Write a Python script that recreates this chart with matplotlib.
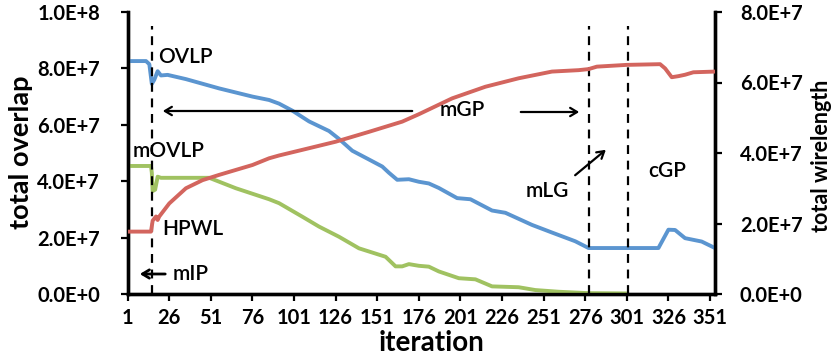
import matplotlib
matplotlib.use("Agg")
import matplotlib.pyplot as plt
import numpy as np

plt.rcParams['font.family'] = ['Lato', 'DejaVu Sans']

# ---- data ----
ovlp_iter = [1, 12, 14, 15.5, 17, 19, 21, 25, 36, 56, 76, 86, 92, 100, 110, 122, 128, 136,
             146, 154, 158, 163, 170, 176, 182, 188, 199, 207, 220, 228, 244, 256, 270, 278,
             320, 326, 330, 336, 346, 354]
ovlp_val = [8.26e7, 8.26e7, 8.15e7, 7.45e7, 7.6e7, 7.9e7, 7.75e7, 7.77e7, 7.62e7, 7.29e7,
            7.0e7, 6.88e7, 6.75e7, 6.5e7, 6.12e7, 5.78e7, 5.5e7, 5.08e7, 4.77e7, 4.52e7,
            4.3e7, 4.05e7, 4.07e7, 3.98e7, 3.92e7, 3.76e7, 3.4e7, 3.36e7, 2.96e7, 2.88e7,
            2.45e7, 2.18e7, 1.87e7, 1.63e7, 1.63e7, 2.28e7, 2.27e7, 1.98e7, 1.86e7, 1.63e7]

movlp_iter = [1, 15, 15.5, 16, 17.5, 19, 21, 50, 66, 86, 92, 106, 116, 128, 140, 156, 162,
              166, 170, 176, 182, 188, 200, 210, 220, 236, 246, 260, 278, 301]
movlp_val = [4.54e7, 4.54e7, 4.3e7, 3.65e7, 3.7e7, 4.16e7, 4.12e7, 4.12e7, 3.75e7, 3.36e7,
             3.22e7, 2.74e7, 2.39e7, 2.03e7, 1.62e7, 1.32e7, 0.98e7, 0.98e7, 1.06e7, 1.0e7,
             0.97e7, 0.8e7, 0.56e7, 0.52e7, 0.27e7, 0.24e7, 0.14e7, 0.08e7, 0.03e7, 0.02e7]

hpwl_iter = [1, 15, 16, 18, 19, 20, 26, 36, 46, 56, 76, 86, 92, 106, 126, 146, 166, 176,
             196, 216, 236, 256, 272, 278, 283, 301, 321, 324, 328, 332, 336, 341, 354]
hpwl_val = [1.77e7, 1.77e7, 2.08e7, 2.2e7, 2.1e7, 2.2e7, 2.57e7, 3.0e7, 3.23e7, 3.38e7,
            3.66e7, 3.85e7, 3.93e7, 4.09e7, 4.32e7, 4.6e7, 4.89e7, 5.1e7, 5.55e7, 5.88e7,
            6.12e7, 6.31e7, 6.35e7, 6.38e7, 6.45e7, 6.5e7, 6.52e7, 6.4e7, 6.15e7, 6.18e7,
            6.22e7, 6.29e7, 6.31e7]

x_ticks = [1, 26, 51, 76, 101, 126, 151, 176, 201, 226, 251, 276, 301, 326, 351]
left_ticks = [0, 2e7, 4e7, 6e7, 8e7, 1e8]
left_labels = ['0.0E+0', '2.0E+7', '4.0E+7', '6.0E+7', '8.0E+7', '1.0E+8']
right_ticks = [0, 2e7, 4e7, 6e7, 8e7]
right_labels = ['0.0E+0', '2.0E+7', '4.0E+7', '6.0E+7', '8.0E+7']
phase_iters = [15.5, 278.5, 301.5]

BLUE = '#5b95d0'
GREEN = '#a0c261'
RED = '#d3655e'

W, H = 833, 357
fig = plt.figure(figsize=(W / 100, H / 100), dpi=100)
ax = fig.add_axes([127.7 / W, 1 - 294 / H, (715 - 127.7) / W, (294 - 12) / H])
ax2 = ax.twinx()

lw = 2.8
ax.plot(ovlp_iter, ovlp_val, color=BLUE, lw=lw, solid_capstyle='butt', zorder=3)
ax.plot(movlp_iter, movlp_val, color=GREEN, lw=lw, solid_capstyle='butt', zorder=3)
ax2.plot(hpwl_iter, hpwl_val, color=RED, lw=lw, solid_capstyle='butt', zorder=3)

ax.set_xlim(1, 354)
ax.set_ylim(0, 1e8)
ax2.set_ylim(0, 8e7)

ax.set_xticks(x_ticks)
ax.set_xticklabels([str(t) for t in x_ticks])
ax.set_yticks(left_ticks)
ax.set_yticklabels(left_labels)
ax2.set_yticks(right_ticks)
ax2.set_yticklabels(right_labels)

tfs = 14.5
for a in (ax, ax2):
    for s in a.spines.values():
        s.set_linewidth(2.4)
    a.spines['top'].set_visible(False)
ax.tick_params(axis='x', direction='out', length=5, width=1.6, pad=5, labelsize=tfs)
ax.tick_params(axis='y', direction='out', length=5, width=1.6, pad=15, labelsize=tfs)
ax2.tick_params(axis='y', direction='out', length=5, width=1.6, pad=13, labelsize=tfs)
for lab in ax.get_xticklabels() + ax.get_yticklabels() + ax2.get_yticklabels():
    lab.set_fontweight('bold')

# dashed phase lines
for xi in phase_iters:
    ax.plot([xi, xi], [0, 9.5e7], color='black', lw=1.6, ls=(0, (4, 3)), zorder=4)

# axis titles
fig.text(21 / W, 1 - 152 / H, 'total overlap', rotation=90, ha='center', va='center',
         fontsize=19.5, fontweight='bold')
fig.text(821 / W, 1 - 156 / H, 'total wirelength', rotation=90, ha='center', va='center',
         fontsize=15.5, fontweight='bold')
fig.text(432 / W, 1 - 343 / H, 'iteration', ha='center', va='center',
         fontsize=20, fontweight='bold')

# annotations (figure pixel coordinates)
def ftext(x, y, s, ha='left'):
    fig.text(x / W, 1 - y / H, s, ha=ha, va='center', fontsize=15, fontweight='semibold')

ftext(158, 57, 'OVLP')
ftext(133, 151, 'mOVLP')
ftext(162, 229, 'HPWL')
ftext(173, 274, 'mIP')
ftext(440, 110, 'mGP')
ftext(526, 191, 'mLG')
ftext(648, 171, 'cGP')

def farrow(x0, y0, x1, y1, lw=1.6):
    fig.add_artist(matplotlib.patches.FancyArrowPatch(
        (x0 / W, 1 - y0 / H), (x1 / W, 1 - y1 / H), transform=fig.transFigure,
        arrowstyle='->,head_length=5,head_width=3', mutation_scale=1, lw=lw, color='black'))

farrow(168, 274, 137, 274, lw=2)
farrow(415, 111, 160, 111)
farrow(518, 112, 582, 112)
farrow(573, 177, 608, 148)

fig.savefig('out.png', dpi=100)
